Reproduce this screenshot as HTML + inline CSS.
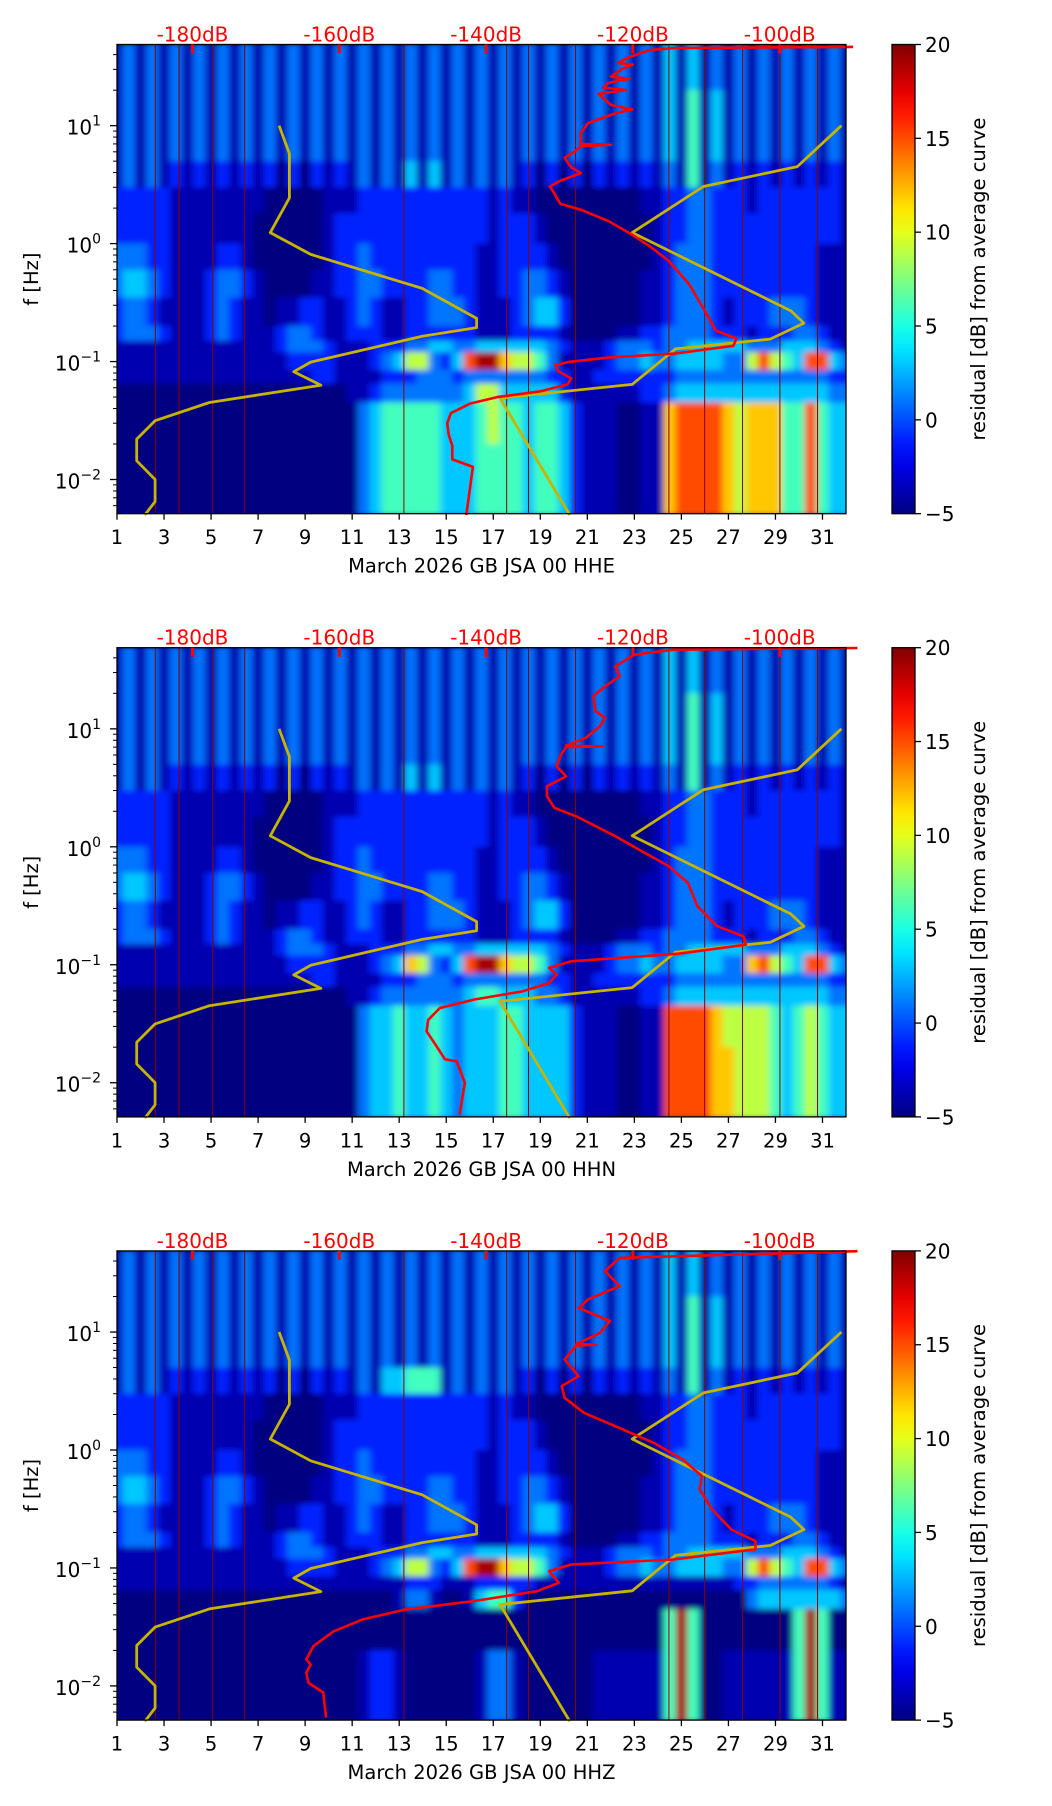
<!DOCTYPE html>
<html><head><meta charset="utf-8"><title>Residual spectrograms GB JSA March 2026</title>
<style>
html,body{margin:0;padding:0;background:#fff;}
svg{display:block;font-family:"DejaVu Sans","Liberation Sans",sans-serif;}
</style></head>
<body>
<svg id="fig" xmlns="http://www.w3.org/2000/svg" width="1052" height="1806" viewBox="0 0 1052 1806">
<defs>
<filter id="soft" x="-3%" y="-3%" width="106%" height="106%"><feGaussianBlur stdDeviation="3.5 3"/></filter>
<linearGradient id="jetgrad" x1="0" y1="1" x2="0" y2="0"></linearGradient>
</defs>
</svg>
<script>
// ---------- data ----------
const bandEdges = [50,20,10,5,3,1.8,1.0,0.6,0.35,0.2,0.15,0.12,0.085,0.065,0.045,0.02,0.005];
const levelDb = [-5,-3.8,-1,1,3,6,9,12,15,19];
const panelTitles = ["March 2026 GB JSA 00 HHE","March 2026 GB JSA 00 HHN","March 2026 GB JSA 00 HHZ"];
const xTickDays = [1,3,5,7,9,11,13,15,17,19,21,23,25,27,29,31];
const dbTicks = [-180,-160,-140,-120,-100];
const cbTicks = [-5,0,5,10,15,20];
const yDecades = [-2,-1,0,1];
const gapDays = [2.63,3.64,5.07,6.43,13.2,17.57,18.5,20.5,24.47,25.99,27.6,29.19,30.79];

const highBands = [
"13 13 13 13 13|13 13 13 13 13|13 13 13 13 13|13 13 13 13 13|13 13 13 14 14|13 13 13 13 13|13 1",
"13 13 13 13 13|13 13 13 13 13|13 13 13 13 13|13 13 13 13 13|13 13 13 14 15|14 13 13 13 13|13 1",
"13 13 13 13 13|13 13 13 13 13|13 13 13 13 13|13 13 13 13 13|13 13 13 14 15|14 13 13 13 13|13 1",
"13 13 12 12 12|12 12 02 02 12|13 13 14 14 13|13 13 12 02 02|02 12 12 13 15|13 12 12 12 12|12 1",
"22 22 21 11 11|11 10 00 00 11|12 22 22 22 22|22 12 11 00 00|00 00 01 12 23|32 22 12 22 22|22 1",
"22 22 21 11 11|11 00 00 00 12|22 22 22 22 22|22 12 22 10 00|00 00 00 12 23|32 22 22 22 22|22 1",
"33 32 21 11 12|21 00 00 00 12|23 22 22 22 22|21 12 22 21 00|00 00 00 12 33|32 22 22 22 22|11 1",
"34 43 21 11 23|32 10 00 01 12|23 32 22 23 32|21 12 23 32 10|00 00 01 12 33|32 22 22 22 22|11 1",
"23 32 11 11 23|21 10 11 22 11|23 21 12 23 33|21 11 23 44 20|00 00 01 12 33|32 12 22 33 32|11 1",
"23 33 21 11 23|21 11 23 32 11|22 21 12 22 22|21 11 22 22 10|00 01 12 23 33|32 22 12 22 33|21 1",
"11 11 11 11 11|11 11 23 33 21|11 22 23 34 43|34 44 44 43 21|11 23 33 23 34|44 44 33 34 44|32 1"
];
const lowHHE = [
"11 11 11 11 11|11 11 12 22 21|11 23 46 63 24|89 97 66 53 11|11 23 34 33 44|44 33 68 65 48|84 3",
"11 11 11 11 11|11 11 11 12 21|11 12 22 33 32|33 33 33 32 21|12 22 22 22 33|33 33 33 33 33|32 2",
"00 00 00 00 00|00 00 00 00 00|11 23 33 33 33|46 64 44 44 21|11 11 12 23 44|44 44 44 44 44|43 3",
"00 00 00 00 00|00 00 00 00 00|03 45 55 55 44|45 65 54 55 42|11 10 01 17 88|88 76 77 75 58|54 4",
"00 00 00 00 00|00 00 00 00 00|03 45 55 55 44|45 55 54 55 42|11 10 01 17 88|88 76 77 75 58|54 4"
];
const lowHHN = [
"11 11 11 11 11|11 11 12 22 21|11 23 47 63 24|89 97 66 53 11|11 23 34 33 44|44 33 78 65 48|84 3",
"11 11 11 11 11|11 11 11 12 21|11 12 22 33 32|33 33 33 32 21|12 22 22 22 33|33 33 33 33 33|32 2",
"00 00 00 00 00|00 00 00 00 00|11 23 33 33 33|45 54 44 33 21|11 11 12 23 44|44 44 44 44 44|43 3",
"00 00 00 00 00|00 00 00 00 00|03 44 54 45 43|44 45 54 44 42|11 10 01 18 88|87 66 66 54 56|54 4",
"00 00 00 00 00|00 00 00 00 00|03 44 54 45 43|44 45 54 44 42|11 10 01 18 88|87 76 66 54 56|54 4"
];
const lowHHZ = [
"11 11 11 11 11|11 11 12 22 21|11 23 46 63 24|89 97 66 53 11|11 23 34 33 44|44 33 68 65 48|84 3",
"11 11 11 11 11|11 11 11 11 11|11 11 12 22 11|12 22 22 11 11|11 11 11 11 11|11 12 23 33 33|32 1",
"00 00 00 00 00|00 00 00 00 00|00 00 13 31 00|14 55 20 00 00|00 00 00 00 00|00 00 34 44 44|44 3",
"00 00 00 00 00|00 00 00 00 00|00 00 00 00 00|00 00 00 00 00|00 00 00 05 95|00 00 00 00 59|50 0",
"00 00 00 00 00|00 00 00 00 00|01 22 10 00 00|01 33 10 00 00|01 11 11 15 95|00 11 11 11 59|51 1"
];
const band3HHZ = "13 13 12 12 12|12 12 02 02 12|13 14 45 55 13|13 13 12 02 02|02 12 12 13 15|13 12 12 12 12|12 1";

const nlnmHz = [10,5.8,2.44,1.24,0.81,0.417,0.232,0.194,0.164,0.099,0.082,0.063,0.045,0.0315,0.022,0.0144,0.010,0.0065,0.005];
const nlnmDb = [-168.2,-166.8,-166.8,-169.4,-163.9,-148.7,-141.3,-141.3,-148.7,-163.9,-166.2,-162.5,-177.7,-185.1,-187.6,-187.6,-185.1,-185.1,-186.5];
const nhnmHz = [10,4.5,3.05,1.24,0.27,0.212,0.155,0.128,0.064,0.049,0.005];
const nhnmDb = [-91.6,-97.6,-110.4,-120.1,-98.5,-96.7,-101.3,-114.2,-120.1,-138.1,-128.6];

const redHzHHE = [0.005,0.0128,0.0148,0.0193,0.024,0.030,0.0365,0.044,0.050,0.056,0.064,0.072,0.083,0.093,0.099,0.108,0.117,0.136,0.157,0.183,0.256,0.36,0.45,0.71,0.92,1.19,1.56,1.94,2.18,2.73,3.05,3.41,3.97,4.44,5.35,5.98,6.7,6.9,7.0,8.7,10.5,12.7,13.7,15,18.6,20,21,23,25,26,30,33,34,37.7,43.6,45.5,46.5];
const redDbHHE = [-142.7,-141.8,-144.6,-144.6,-145.1,-145.3,-144.8,-142.2,-138.5,-132.6,-128.9,-128.4,-130.2,-130.5,-128.9,-123.4,-114.2,-106.3,-105.9,-108.7,-110,-111.4,-112.3,-115.1,-117.4,-120.1,-123.4,-127.1,-129.9,-130.8,-131.3,-129.9,-127.1,-128.4,-129.3,-128,-127.1,-123,-127.1,-127.1,-126.1,-122.4,-120.1,-123,-124.7,-121,-124,-123.4,-120.5,-123,-121.6,-120,-122,-120.7,-117.8,-114.2,-90];
const redHzHHN = [0.0054,0.0100,0.0152,0.0158,0.021,0.0273,0.034,0.043,0.0507,0.0596,0.070,0.0826,0.094,0.107,0.124,0.148,0.174,0.212,0.313,0.494,0.684,0.89,1.23,1.81,2.14,2.68,3.26,3.96,4.81,6.04,7.0,7.1,7.2,8.4,10.5,12.4,14.1,18.9,22.9,27.9,33.9,42.5,46.9,48.5];
const redDbHHN = [-143.6,-142.9,-144.0,-145.6,-146.9,-148.1,-147.9,-146.3,-141.6,-135.0,-131.4,-130.4,-131.4,-128.4,-113.8,-104.6,-104.9,-108.5,-111.2,-112.5,-115.1,-118.4,-122.4,-127.7,-130.7,-131.7,-131.7,-129.1,-130.4,-129.8,-129.1,-124.1,-129.1,-126.4,-124.5,-123.8,-125.1,-125.4,-123.8,-121.8,-122.4,-119.8,-114.5,-89.4];
const redHzHHZ = [0.0054,0.0088,0.0106,0.0129,0.0152,0.0168,0.0218,0.029,0.0366,0.0445,0.0525,0.0637,0.075,0.094,0.107,0.118,0.144,0.169,0.212,0.313,0.463,0.601,0.83,1.15,1.59,2.07,2.77,3.48,4.23,5.85,7.7,7.8,7.9,9.83,12.4,16.0,18.9,24.5,32.9,42.5,48.5];
const redDbHHZ = [-161.8,-162.2,-164.2,-164.5,-163.9,-164.5,-163.5,-160.8,-156.8,-150.9,-141.6,-133.0,-130.1,-131.4,-128.4,-114.5,-103.3,-103.3,-106.6,-109.2,-110.9,-110.6,-113.2,-117.2,-122.4,-126.7,-129.3,-129.7,-127.4,-129.3,-127.7,-125,-127.7,-124.5,-123.1,-127.4,-126.1,-121.8,-123.8,-121.8,-89.4];

// ---------- layout ----------
const NS = "http://www.w3.org/2000/svg";
const svg = document.getElementById('fig');
const AX_L = 117, AX_R = 846, AX_H = 469.2;
const panelTops = [44.5, 647.7, 1250.9];
const LOG_MAX = Math.log10(48.75), LOG_MIN = Math.log10(0.00513);
const CB_L = 892, CB_W = 23;

function xScale(day){ return AX_L + (day - 1) * (AX_R - AX_L) / 31; }
function yScale(f, top){ return top + (LOG_MAX - Math.log10(f)) / (LOG_MAX - LOG_MIN) * AX_H; }
function dbScale(db){ return 192.5 + (db + 180) * 7.34; }
function clamp(v){ return Math.max(0, Math.min(1, v)); }
function jet(v){
  const t = clamp((v + 5) / 25);
  const r = clamp(1.5 - Math.abs(4*t - 3)), g = clamp(1.5 - Math.abs(4*t - 2)), b = clamp(1.5 - Math.abs(4*t - 1));
  return `rgb(${Math.round(r*255)},${Math.round(g*255)},${Math.round(b*255)})`;
}
function mk(tag, attrs, parent){
  const el = document.createElementNS(NS, tag);
  for (const k in attrs) el.setAttribute(k, attrs[k]);
  (parent || svg).appendChild(el);
  return el;
}
function cleanRow(s){ let r = s.replace(/[^0-9]/g, ''); while (r.length < 63) r += r[r.length-1]; return r; }

const grad = document.getElementById('jetgrad');
for (let i = 0; i <= 20; i++) {
  const st = document.createElementNS(NS, 'stop');
  st.setAttribute('offset', (i/20).toFixed(3));
  st.setAttribute('stop-color', jet(-5 + 25 * i / 20));
  grad.appendChild(st);
}

const lowSets = [lowHHE, lowHHN, lowHHZ];
const redHz = [redHzHHE, redHzHHN, redHzHHZ];
const redDb = [redDbHHE, redDbHHN, redDbHHZ];

panelTops.forEach((top, p) => {
  const panel = mk('g', {});
  
  

  const cp = mk('clipPath', {id: 'clip' + p}, panel);
  mk('rect', {x: AX_L, y: top, width: AX_R - AX_L, height: AX_H}, cp);

  const bg = mk('rect', {x: AX_L, y: top, width: AX_R - AX_L, height: AX_H, fill: jet(-5)}, panel);
  
  

  const clipG = mk('g', {'clip-path': 'url(#clip' + p + ')'}, panel);
  const heat = mk('g', {filter: 'url(#soft)'}, clipG);
  
  

  const rows = highBands.slice();
  if (p === 2) rows[3] = band3HHZ;
  const allRows = rows.concat(lowSets[p]);
  allRows.forEach((rowStr, b) => {
    const row = cleanRow(rowStr);
    const y0 = yScale(bandEdges[b], top), y1 = yScale(bandEdges[b+1], top);
    for (let k = 0; k < 63; k++) {
      const d0 = 0.75 + 0.5 * k;
      const x0 = xScale(d0), x1 = xScale(d0 + 0.5);
      const cell = mk('rect', {x: x0.toFixed(1), y: y0.toFixed(1), width: (x1 - x0 + 0.6).toFixed(1), height: (y1 - y0 + 0.6).toFixed(1), fill: jet(levelDb[+row[k]])}, heat);
      
      
    }
  });

  gapDays.forEach(d => {
    const gl = mk('line', {x1: xScale(d), x2: xScale(d), y1: top, y2: top + AX_H, stroke: '#8b0000', 'stroke-width': 1}, clipG);
    
    
  });

  const nl = mk('polyline', {points: nlnmHz.map((f,i) => dbScale(nlnmDb[i]).toFixed(1) + ',' + yScale(f, top).toFixed(1)).join(' '), fill: 'none', stroke: '#c6b400', 'stroke-width': 2.8, 'stroke-linejoin': 'round'}, panel);
  
  
  const nh = mk('polyline', {points: nhnmHz.map((f,i) => dbScale(nhnmDb[i]).toFixed(1) + ',' + yScale(f, top).toFixed(1)).join(' '), fill: 'none', stroke: '#c6b400', 'stroke-width': 2.8, 'stroke-linejoin': 'round'}, panel);
  
  
  const rc = mk('polyline', {points: redHz[p].map((f,i) => dbScale(redDb[p][i]).toFixed(1) + ',' + yScale(f, top).toFixed(1)).join(' '), fill: 'none', stroke: '#ff0000', 'stroke-width': 2.6, 'stroke-linejoin': 'round'}, panel);
  
  

  const fr = mk('rect', {x: AX_L, y: top, width: AX_R - AX_L, height: AX_H, fill: 'none', stroke: '#000', 'stroke-width': 1.3}, panel);
  
  

  dbTicks.forEach(db => {
    const x = dbScale(db);
    const t = mk('rect', {x: x - 1.5, y: top, width: 3, height: 9, fill: '#ff0000'}, panel);
    
    
    const lab = mk('text', {x: x, y: top - 3, 'text-anchor': 'middle', 'font-size': 20, fill: '#ff0000'}, panel);
    lab.textContent = db + 'dB';
    
    
  });

  xTickDays.forEach(d => {
    const x = xScale(d);
    const t = mk('line', {x1: x, x2: x, y1: top + AX_H, y2: top + AX_H + 6, stroke: '#000', 'stroke-width': 1.3}, panel);
    
    
    const lab = mk('text', {x: x, y: top + AX_H + 30.5, 'text-anchor': 'middle', 'font-size': 19.5, fill: '#000'}, panel);
    lab.textContent = String(d);
    
    
  });
  const xl = mk('text', {x: (AX_L + AX_R) / 2, y: top + AX_H + 59, 'text-anchor': 'middle', 'font-size': 19.5, fill: '#000'}, panel);
  xl.textContent = panelTitles[p];
  
  

  for (let e = -3; e <= 1; e++) {
    for (let m = 1; m <= 9; m++) {
      const f = m * Math.pow(10, e);
      const lf = Math.log10(f);
      if (lf > LOG_MAX || lf < LOG_MIN) continue;
      const y = yScale(f, top);
      const len = m === 1 ? 7 : 4;
      const t = mk('line', {x1: AX_L - len, x2: AX_L, y1: y, y2: y, stroke: '#000', 'stroke-width': m === 1 ? 1.3 : 1}, panel);
      
      
    }
  }
  yDecades.forEach(e => {
    const y = yScale(Math.pow(10, e), top);
    const lab = mk('text', {x: 101, y: y + 9, 'text-anchor': 'end', 'font-size': 20, fill: '#000'}, panel);
    
    
    const base = document.createElementNS(NS, 'tspan');
    base.textContent = '10';
    lab.appendChild(base);
    const sup = document.createElementNS(NS, 'tspan');
    sup.setAttribute('dy', '-9');
    sup.setAttribute('font-size', '14');
    sup.textContent = e < 0 ? '\u2212' + (-e) : String(e);
    lab.appendChild(sup);
  });
  const yl = mk('text', {x: 0, y: 0, 'text-anchor': 'middle', 'font-size': 19.5, fill: '#000', transform: `translate(38,${top + AX_H/2}) rotate(-90)`}, panel);
  yl.textContent = 'f [Hz]';
  
  

  const cb = mk('rect', {x: CB_L, y: top, width: CB_W, height: AX_H, fill: 'url(#jetgrad)', stroke: '#000', 'stroke-width': 1.3}, panel);
  
  
  cbTicks.forEach(v => {
    const y = top + AX_H - (v + 5) / 25 * AX_H;
    const t = mk('line', {x1: CB_L + CB_W, x2: CB_L + CB_W + 6, y1: y, y2: y, stroke: '#000', 'stroke-width': 1.3}, panel);
    
    
    const lab = mk('text', {x: CB_L + CB_W + 10, y: y + 7.5, 'font-size': 20, fill: '#000'}, panel);
    lab.textContent = v < 0 ? '\u2212' + (-v) : String(v);
    
    
  });
  const cl = mk('text', {x: 0, y: 0, 'text-anchor': 'middle', 'font-size': 19.5, fill: '#000', transform: `translate(985,${top + AX_H/2}) rotate(-90)`}, panel);
  cl.textContent = 'residual [dB] from average curve';
  
  
});
</script>
</body></html>
